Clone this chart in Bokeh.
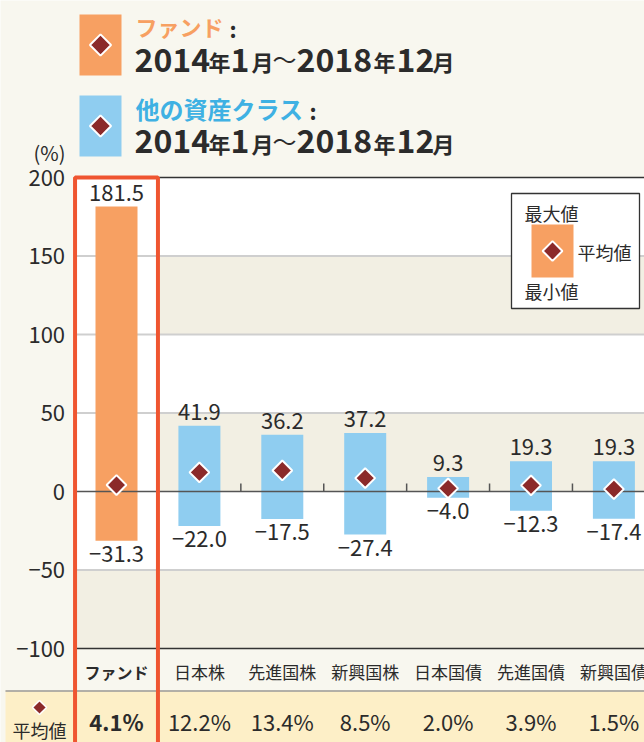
import math
from bokeh.plotting import figure
from bokeh.models import Range1d
from bokeh.embed import file_html
from bokeh.resources import INLINE
from bokeh.core.properties import value

# ---------------- data ----------------
categories = ["ファンド", "日本株", "先進国株", "新興国株", "日本国債", "先進国債", "新興国債"]
max_vals = [181.5, 41.9, 36.2, 37.2, 9.3, 19.3, 19.3]
min_vals = [-31.3, -22.0, -17.5, -27.4, -4.0, -12.3, -17.4]
mean_vals = [4.1, 12.2, 13.4, 8.5, 2.0, 3.9, 1.5]
y_ticks = [-100, -50, 0, 50, 100, 150, 200]
mean_label = "平均値"
legend_texts = ["最大値", "平均値", "最小値"]
header_fund = "ファンド"
header_other = "他の資産クラス"
period_pieces = [("2014", "d"), ("年", "k"), ("1", "d"), ("月", "k"), ("～", "t"),
                 ("2018", "d"), ("年", "k"), ("12", "d"), ("月", "k")]

# ---------------- style ----------------
FONT = value("Noto Sans CJK JP")
PAGE = "#f8f7ef"
BEIGE = "#f2efe3"
ORANGE = "#f7a062"
BLUE = "#8fcdf0"
BLUE_TXT = "#3fb1e3"
DIAMOND = "#8b2a2a"
RED = "#ef5530"
YELLOW = "#fdefc7"
TXT = "#2b2b2b"

W, H = 644, 742
cat_px0, cat_step = 116.0, 82.9
zero_px, ppu = 491.0, 1.57

x_start = -cat_px0 / cat_step
x_end = (W - cat_px0) / cat_step
y_end = zero_px / ppu
y_start = -(H - zero_px) / ppu

p = figure(width=W, height=H, x_range=Range1d(x_start, x_end), y_range=Range1d(y_start, y_end),
           x_axis_type=None, y_axis_type=None, output_backend="svg", toolbar_location=None,
           min_border=0, background_fill_color=PAGE, border_fill_color=PAGE,
           outline_line_color=None, title=None)
p.extra_x_ranges = {"px": Range1d(0, W)}
p.extra_y_ranges = {"px": Range1d(H, 0)}
PX = dict(x_range_name="px", y_range_name="px")

n = len(categories)
xs = list(range(n))
ymin, ymax = min(y_ticks), max(y_ticks)
right = x_end + 1

# plot area background and alternating bands
p.quad(left=[-0.5], right=[right], bottom=[ymin], top=[ymax], fill_color="white", line_color=None)
band_bottoms = [y_ticks[i] for i in range(0, len(y_ticks) - 1, 2)]
band_tops = [y_ticks[i + 1] for i in range(0, len(y_ticks) - 1, 2)]
band_lefts = [-0.5 if b == ymin else 0.5 for b in band_bottoms]
p.quad(left=band_lefts, right=[right] * len(band_bottoms), bottom=band_bottoms, top=band_tops,
       fill_color=BEIGE, line_color=None)

# grid lines
grid_vals = [t for t in y_ticks if t not in (ymin, 0, ymax)]
p.segment(x0=[-0.5] * len(grid_vals), x1=[right] * len(grid_vals), y0=grid_vals, y1=grid_vals,
          line_color="#cfcfcf", line_width=2)
p.segment(x0=[0.5], x1=[right], y0=[ymax], y1=[ymax], line_color="#333333", line_width=1.3)
p.segment(x0=[-0.5], x1=[right], y0=[ymin], y1=[ymin], line_color="#333333", line_width=1.5)

# mean row background
p.quad(left=[5], right=[W + 5], top=[690], bottom=[H + 5], fill_color=YELLOW, line_color=None, **PX)
p.segment(x0=[5], x1=[W + 5], y0=[690.5], y1=[690.5], line_color="#9a9a9a", line_width=1.3, **PX)

# bars
colors = [ORANGE] + [BLUE] * (n - 1)
p.vbar(x=xs, width=42 / cat_step, bottom=min_vals, top=max_vals, fill_color=colors, line_color=None)

# zero line with ticks between categories
p.segment(x0=[-0.5], x1=[right], y0=[0], y1=[0], line_color="#555555", line_width=1.5)
tx = [i + 0.5 for i in range(n)]
p.segment(x0=tx, x1=tx, y0=[0] * n, y1=[8 / ppu] * n, line_color="#555555", line_width=1.5)

# mean diamonds
p.scatter(x=xs, y=mean_vals, marker="square", angle=math.pi / 4, size=14,
          fill_color=DIAMOND, line_color="white", line_width=2)

def fmt(v):
    return f"{v:.1f}".replace("-", "\u2212")

p.text(x=xs, y=max_vals, text=[fmt(v) for v in max_vals], y_offset=-14,
       text_align="center", text_baseline="middle", text_font=FONT,
       text_font_size="22px", text_color=TXT)
p.text(x=xs, y=min_vals, text=[fmt(v) for v in min_vals], y_offset=13,
       text_align="center", text_baseline="middle", text_font=FONT,
       text_font_size="22px", text_color=TXT)

# y tick labels
p.text(x=[-0.5] * len(y_ticks), y=y_ticks, text=[str(t).replace("-", "\u2212") for t in y_ticks],
       x_offset=-10, text_align="right", text_baseline="middle", text_font=FONT,
       text_font_size="22px", text_color=TXT)
p.text(x=[49], y=[152], text=["(%)"], text_align="center", text_baseline="middle",
       text_font=FONT, text_font_size="20px", text_color=TXT, **PX)

# category labels
p.text(x=xs[:1], y=[671], text=categories[:1], text_align="center", text_baseline="middle",
       text_font=FONT, text_font_size="16px", text_font_style="bold", text_color=TXT,
       y_range_name="px")
p.text(x=xs[1:], y=[671] * (n - 1), text=categories[1:], text_align="center", text_baseline="middle",
       text_font=FONT, text_font_size="17px", text_color=TXT, y_range_name="px")

# mean row
mean_txt = [f"{v:.1f}%" for v in mean_vals]
p.text(x=xs[:1], y=[720], text=mean_txt[:1], text_align="center", text_baseline="middle",
       text_font=FONT, text_font_size="22px", text_font_style="bold", text_color=TXT,
       y_range_name="px")
p.text(x=xs[1:], y=[720] * (n - 1), text=mean_txt[1:], text_align="center", text_baseline="middle",
       text_font=FONT, text_font_size="22px", text_color=TXT, y_range_name="px")
p.scatter(x=[39], y=[707], marker="square", angle=math.pi / 4, size=10,
          fill_color=DIAMOND, line_color="white", line_width=1.5, **PX)
p.text(x=[39], y=[729], text=[mean_label], text_align="center", text_baseline="middle",
       text_font=FONT, text_font_size="18px", text_color=TXT, **PX)

# fund highlight box
p.quad(left=[-0.5], right=[0.5], top=[ymax], bottom=[y_start - 20], fill_color=None,
       line_color=RED, line_width=4)

# legend box (top right)
p.quad(left=[511], right=[639], top=[193], bottom=[308], fill_color="white",
       line_color="#333333", line_width=1.3, **PX)
p.quad(left=[531], right=[573], top=[224], bottom=[277], fill_color=ORANGE, line_color=None, **PX)
p.scatter(x=[552], y=[250.5], marker="square", angle=math.pi / 4, size=14,
          fill_color=DIAMOND, line_color="white", line_width=2, **PX)
p.text(x=[551, 604, 551], y=[212, 251, 290], text=legend_texts,
       text_align="center", text_baseline="middle", text_font=FONT,
       text_font_size="18px", text_color=TXT, **PX)

# header
for top, color in ((14, ORANGE), (95, BLUE)):
    p.quad(left=[79], right=[121], top=[top], bottom=[top + 61], fill_color=color, line_color=None, **PX)
    p.scatter(x=[100], y=[top + 30.5], marker="square", angle=math.pi / 4, size=15,
              fill_color=DIAMOND, line_color="white", line_width=2, **PX)

p.text(x=[135], y=[25], text=[header_fund], text_align="left", text_baseline="middle",
       text_font=FONT, text_font_size="22px", text_font_style="bold", text_color=ORANGE, **PX)
p.text(x=[229], y=[27], text=[":"], text_align="left", text_baseline="middle",
       text_font=FONT, text_font_size="22px", text_font_style="bold", text_color=TXT, **PX)
p.text(x=[135], y=[108], text=[header_other], text_align="left", text_baseline="middle",
       text_font=FONT, text_font_size="24px", text_font_style="bold", text_color=BLUE_TXT, **PX)
p.text(x=[309], y=[109], text=[":"], text_align="left", text_baseline="middle",
       text_font=FONT, text_font_size="22px", text_font_style="bold", text_color=TXT, **PX)

piece_x = [134, 208, 230, 251, 272, 296, 373, 396, 432]
sizes = {"d": "32px", "k": "22px", "t": "24px"}
dy = {"d": 0, "k": 1.5, "t": -1}
for center in (59, 140.5):
    for (txt, kind), x in zip(period_pieces, piece_x):
        p.text(x=[x], y=[center + dy[kind]], text=[txt],
               text_align="left", text_baseline="middle", text_font=FONT,
               text_font_size=sizes[kind], text_font_style="normal" if kind == "t" else "bold",
               text_color=TXT, **PX)

open("out.html", "w").write(file_html(p, INLINE))
